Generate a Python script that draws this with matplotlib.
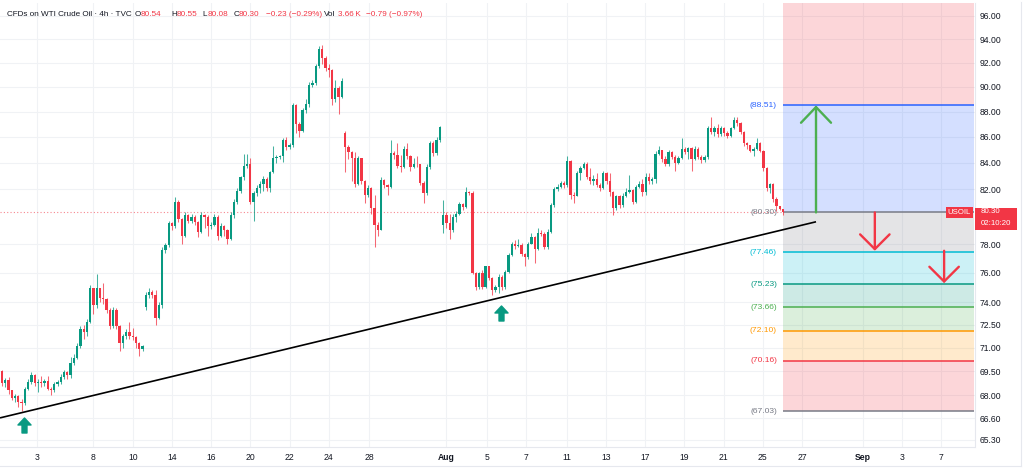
import matplotlib
matplotlib.use("Agg")
import matplotlib.pyplot as plt
from matplotlib.path import Path
from matplotlib.patches import Rectangle
from matplotlib.ticker import FixedLocator, FuncFormatter, NullLocator, NullFormatter

plt.rcParams['font.family'] = ['Liberation Sans', 'DejaVu Sans']

# ---------------- data (4h candles, USOIL) ----------------
first_open = 69.5
gap_opens = {44: 73.7, 105: 86.3, 135: 79.4}

closes = [
    68.75, 68.95, 68.3, 67.85, 67.95, 67.6, 67.5,
    68.4, 68.8, 69.25, 68.75, 68.8, 68.75, 68.9, 68.4, 68.3, 68.7,
    68.8, 69.15, 69.45, 69.25, 70.0, 70.35, 71.1, 72.2, 72.0, 72.7,
    74.95, 73.8, 74.95, 74.3, 74.2, 73.5, 72.45, 73.5, 72.4, 71.3,
    71.8, 72.0, 71.8, 71.7, 71.3, 70.9, 71.1,
    74.5, 74.7, 74.5, 72.95, 73.8, 77.6, 77.95, 79.5, 79.3, 81.1,
    79.85, 78.6, 80.1, 79.7,
    80.0, 79.6, 78.9, 80.1, 80.0, 79.3, 79.4, 80.0, 78.6, 79.3,
    79.0, 78.4, 80.1, 81.1, 81.9, 82.9,
    83.8, 83.95, 81.1, 81.75, 82.1, 82.4, 82.8, 82.1, 83.3, 84.35,
    84.45, 84.5, 85.75, 85.2, 85.35, 88.5, 87.0, 86.5, 88.1, 88.6,
    90.2, 90.35, 91.7, 93.2,
    92.4, 91.6, 91.4, 89.0, 89.95, 89.2, 90.5,
    85.25, 84.8, 84.35, 82.4, 84.35, 82.6, 81.6, 82.1, 80.6, 79.4, 79.0,
    82.7, 82.3, 82.2, 84.75, 84.6, 83.8, 83.7, 85.1, 84.5, 83.7,
    83.95, 83.9, 82.5, 81.7, 83.7, 85.5, 84.75, 85.75, 86.8,
    80.1, 79.5, 79.0, 80.0, 80.2, 80.95, 80.7, 81.8, 81.75,
    76.0, 75.05, 76.0, 75.05, 76.45, 75.65, 74.8, 75.05, 75.75, 75.05,
    76.1, 77.25, 78.05, 77.9, 77.95, 77.35, 77.1, 78.05, 78.5, 77.65,
    78.8, 78.75, 77.85, 78.9,
    80.85, 82.0, 82.2, 82.45, 82.3, 84.15, 81.6, 81.5,
    83.2, 83.6, 83.9, 82.95, 82.6, 82.75, 82.3, 82.1, 83.2, 82.6,
    81.8, 80.6, 81.5, 80.85, 81.5, 81.8, 81.95, 81.1, 82.2, 82.4,
    81.8, 82.95, 82.6, 82.8,
    84.7, 85.0, 84.3, 83.95, 84.85, 84.45, 84.0, 84.4, 85.1, 84.85,
    85.15, 84.3, 85.1, 84.45, 84.2, 84.45,
    86.7, 86.4, 86.7, 86.2, 86.7, 86.3, 86.1, 86.7, 87.3, 87.1,
    86.4, 85.5, 85.35, 84.95, 85.1, 85.5, 84.95, 83.6, 82.1, 82.4,
    81.3, 80.75, 80.54, 80.30,
]

highs = [
    69.6, 69.1, 69.15, 68.35, 68.1, 68.0, 67.8,
    68.5, 69.0, 69.45, 69.3, 69.0, 69.2, 69.0, 69.2, 68.5, 68.8,
    68.95, 69.3, 69.6, 69.5, 70.4, 70.6, 71.3, 72.4, 72.5, 72.9,
    75.2, 75.0, 75.9, 75.0, 75.3, 74.3, 73.6, 73.7, 73.6, 72.5,
    71.9, 72.2, 72.7, 72.3, 71.8, 71.4, 71.2,
    74.7, 75.0, 74.8, 74.8, 74.0, 77.8, 78.1, 79.7, 79.6, 81.4,
    81.2, 79.9, 80.3, 80.2,
    80.2, 80.1, 79.7, 80.3, 80.2, 80.1, 79.6, 80.2, 80.1, 79.5,
    79.4, 79.1, 80.3, 81.3, 82.1, 83.0,
    84.7, 84.7, 84.4, 81.9, 82.3, 82.6, 83.0, 82.9, 83.4, 85.3,
    84.6, 84.6, 85.9, 86.0, 85.5, 88.7, 88.6, 87.2, 88.3, 89.0,
    90.4, 90.6, 91.9, 93.4,
    93.5, 92.6, 91.9, 91.5, 90.6, 90.1, 90.7,
    86.5, 85.4, 84.9, 84.8, 84.5, 84.4, 82.7, 82.3, 82.2, 81.6, 79.6,
    82.9, 82.8, 82.4, 85.75, 84.9, 85.5, 84.6, 85.3, 85.5, 84.6,
    84.4, 84.5, 83.95, 82.6, 83.9, 85.7, 85.7, 86.0, 86.9,
    81.2, 80.3, 80.2, 80.2, 80.4, 81.1, 81.0, 82.2, 81.9,
    81.9, 76.1, 76.1, 76.2, 76.5, 76.5, 75.7, 75.2, 75.9, 75.85,
    76.2, 77.4, 78.2, 78.3, 78.4, 78.1, 77.4, 78.2, 78.8, 78.6,
    79.2, 79.0, 78.9, 79.1,
    81.0, 82.2, 82.4, 82.6, 82.6, 84.5, 84.2, 81.8,
    83.4, 83.8, 84.1, 84.1, 83.6, 83.1, 83.2, 82.5, 83.4, 83.3,
    83.2, 81.9, 81.6, 81.6, 81.7, 82.1, 83.1, 82.0, 82.3, 82.6,
    82.8, 83.2, 83.2, 82.9,
    84.9, 85.3, 85.0, 84.5, 85.0, 84.9, 84.6, 84.5, 85.9, 85.2,
    85.2, 85.2, 85.3, 85.2, 84.6, 84.6,
    86.9, 87.6, 86.9, 87.0, 86.9, 86.8, 86.5, 86.8, 87.6, 87.6,
    87.2, 86.5, 85.6, 85.4, 85.2, 85.9, 85.6, 85.0, 83.7, 82.5,
    82.5, 81.4, 80.8, 80.55,
]

lows = [
    68.6, 68.5, 68.1, 67.7, 67.6, 67.3, 67.05,
    67.4, 68.3, 68.7, 68.6, 68.2, 68.5, 68.6, 68.3, 68.0, 68.2,
    68.6, 68.7, 69.0, 69.0, 69.1, 69.9, 70.3, 71.0, 71.6, 71.8,
    72.6, 73.2, 73.6, 74.0, 73.9, 73.3, 72.2, 72.3, 72.2, 70.8,
    71.0, 71.6, 71.6, 71.5, 71.0, 70.5, 70.8,
    73.5, 74.3, 74.3, 72.5, 72.9, 73.6, 77.4, 77.8, 79.0, 79.2,
    79.6, 78.0, 78.5, 79.5,
    79.5, 79.4, 78.5, 78.8, 79.2, 78.6, 79.1, 79.3, 78.3, 78.5,
    78.6, 78.0, 78.3, 79.9, 80.9, 81.7,
    82.7, 83.6, 80.9, 79.7, 81.5, 81.7, 81.9, 81.9, 81.8, 83.2,
    84.0, 84.3, 84.1, 85.0, 85.1, 85.2, 86.3, 86.0, 86.4, 87.9,
    88.4, 90.0, 90.2, 91.6,
    91.9, 91.3, 90.8, 88.5, 88.8, 87.8, 89.1,
    83.3, 84.3, 82.6, 82.2, 82.3, 82.4, 81.0, 81.4, 80.2, 77.8, 78.6,
    79.0, 82.1, 81.6, 82.1, 84.3, 83.6, 83.3, 83.6, 84.3, 83.4,
    83.6, 83.7, 82.3, 81.0, 81.6, 83.5, 84.5, 84.6, 85.6,
    78.8, 79.2, 78.4, 78.9, 79.6, 80.1, 80.5, 80.6, 81.6,
    75.9, 74.8, 74.9, 74.9, 75.0, 75.5, 74.5, 74.7, 74.6, 74.8,
    74.9, 76.0, 77.2, 77.7, 77.8, 77.2, 76.5, 77.0, 78.0, 76.7,
    77.6, 78.6, 77.7, 77.7,
    78.8, 80.7, 81.9, 82.1, 82.1, 82.2, 81.3, 81.0,
    81.5, 82.7, 83.5, 82.8, 82.4, 82.3, 82.2, 81.9, 82.0, 82.4,
    81.5, 80.1, 80.5, 80.6, 80.7, 81.4, 81.7, 80.9, 81.0, 82.1,
    81.5, 81.6, 82.4, 82.4,
    82.5, 84.6, 84.1, 83.8, 83.8, 84.3, 83.4, 83.9, 84.3, 84.7,
    84.3, 83.4, 84.2, 84.3, 84.0, 84.1,
    84.3, 86.2, 86.1, 86.0, 86.1, 86.1, 85.9, 86.0, 86.6, 86.9,
    86.2, 85.3, 85.1, 84.8, 84.5, 85.0, 84.8, 83.4, 81.9, 81.7,
    81.1, 80.4, 80.45, 80.08,
]

date_tick_pos = [10.8, 28.0, 40.0, 52.0, 64.0, 76.0, 88.0, 100.0, 112.4, 136.0,
                 148.4, 160.4, 172.8, 184.8, 196.8, 208.8, 220.8, 232.8, 244.8,
                 263.4, 275.4, 287.4]
date_tick_labels = ['3', '8', '10', '14', '16', '20', '22', '24', '28', 'Aug',
                    '5', '7', '11', '13', '17', '19', '21', '25', '27',
                    'Sep', '3', '7']
# 80.00 is hidden behind the last-price tag in the reference
price_ticks = [96, 94, 92, 90, 88, 86, 84, 82, 78, 76, 74, 72.5, 71, 69.5,
               68, 66.6, 65.3]

fib_levels = [88.51, 80.30, 77.46, 75.23, 73.66, 72.10, 70.16, 67.03]
fib_colors = ['#2962ff', '#787b86', '#00bcd4', '#089981', '#4caf50', '#ff9800',
              '#f23645', '#787b86']
fib_top_color = '#f23645'

trend_x = [-0.61, 249.1]
trend_y = [66.62, 79.62]

up_marks_x = [6.7, 152.7]
up_marks_y = [66.2, 73.3]

green_arrow = {'x': 249.1, 'from': 80.30, 'to': 88.51}
red_arrows = [{'x': 267.1, 'from': 80.30, 'to': 77.55},
              {'x': 288.3, 'from': 77.55, 'to': 75.30}]

header_parts = [
    ('CFDs on WTI Crude Oil \u00b7 4h \u00b7 TVC', 7, 'dark'),
    ('O', 135, 'dark'), ('80.54', 140.5, 'red'),
    ('H', 171, 'dark'), ('80.55', 176.5, 'red'),
    ('L', 202.5, 'dark'), ('80.08', 207.5, 'red'),
    ('C', 233.5, 'dark'), ('80.30', 238.8, 'red'),
    ('\u22120.23 (\u22120.29%)', 265.5, 'red'),
    ('Vol', 324, 'dark'), ('3.66\u2009K', 337.5, 'red'),
    ('\u22120.79 (\u22120.97%)', 366, 'red'),
]
symbol = 'USOIL'
countdown = '02:10:20'

# ---------------- figure ----------------
W, H = 1024, 474
UP = '#089981'
DOWN = '#f23645'
DARK = '#131722'

fig = plt.figure(figsize=(W / 100, H / 100), dpi=100)
fig.patch.set_facecolor('white')
ax = fig.add_axes([0, 27 / H, 974.5 / W, 444 / H])
ax.set_yscale('log')
XMIN, XMAX = -0.61, 297.6
YMIN, YMAX = 64.88, 97.14

n = len(closes)
xs = list(range(n))
opens = []
prev = first_open
for i, c in enumerate(closes):
    opens.append(gap_opens.get(i, prev))
    prev = c

cols = [UP if c >= o else DOWN for o, c in zip(opens, closes)]
ax.vlines(xs, lows, highs, colors=cols, lw=0.75, alpha=0.75, zorder=3)
bottoms = [min(o, c) for o, c in zip(opens, closes)]
heights = [max(abs(c - o), 0.04) for o, c in zip(opens, closes)]
ax.bar(xs, heights, bottom=bottoms, width=0.7, color=cols, lw=0, zorder=3.1)

last_close = closes[-1]
fib_x0 = n - 1

# current price dotted line
ax.hlines(last_close, XMIN, fib_x0, colors=DOWN, lw=0.8, linestyles=(0, (1, 2)),
          alpha=0.6, zorder=2)

# fibonacci zones
ax.fill_between([fib_x0, XMAX], fib_levels[0], YMAX, color=fib_top_color,
                alpha=0.2, lw=0, zorder=1)
for k in range(len(fib_levels) - 1):
    ax.fill_between([fib_x0, XMAX], fib_levels[k + 1], fib_levels[k],
                    color=fib_colors[k], alpha=0.2, lw=0, zorder=1)
for lvl, col in zip(fib_levels, fib_colors):
    ax.hlines(lvl, fib_x0, XMAX, colors=col, lw=1.1, zorder=2)
    ax.annotate(f'({lvl:.2f})', xy=(fib_x0, lvl), xytext=(-4.3, 0),
                textcoords='offset points', ha='right', va='center',
                fontsize=6.1, color=col, zorder=6)

# trend line
ax.plot(trend_x, trend_y, color='#000000', lw=1.2, zorder=4,
        solid_capstyle='butt')

# arrows
ax.annotate('', xy=(green_arrow['x'], green_arrow['to']),
            xytext=(green_arrow['x'], green_arrow['from']),
            arrowprops=dict(arrowstyle='->,head_length=1.13,head_width=1.08',
                            mutation_scale=10, color='#4caf50', lw=1.7,
                            shrinkA=0, shrinkB=0), zorder=5)
for ra in red_arrows:
    ax.annotate('', xy=(ra['x'], ra['to']), xytext=(ra['x'], ra['from']),
                arrowprops=dict(arrowstyle='->,head_length=1.06,head_width=1.06',
                                mutation_scale=10, color=DOWN, lw=1.7,
                                shrinkA=0, shrinkB=0), zorder=5)

arrow_path = Path([(0, 1), (0.87, 0.07), (0.33, 0.07), (0.33, -1), (-0.33, -1),
                   (-0.33, 0.07), (-0.87, 0.07), (0, 1)],
                  [Path.MOVETO] + [Path.LINETO] * 6 + [Path.CLOSEPOLY])
ax.plot(up_marks_x, up_marks_y, ls='none', marker=arrow_path, ms=10.8,
        color=UP, mec=UP, zorder=5)

# axes styling
ax.set_xlim(XMIN, XMAX)
ax.set_ylim(YMIN, YMAX)
ax.yaxis.tick_right()
ax.yaxis.set_major_locator(FixedLocator(price_ticks))
ax.yaxis.set_minor_locator(NullLocator())
ax.yaxis.set_minor_formatter(NullFormatter())
ax.yaxis.set_major_formatter(FuncFormatter(lambda v, p: f'{v:.2f}'))
ax.set_xticks(date_tick_pos)
ax.set_xticklabels(date_tick_labels)
for t in ax.get_xticklabels():
    if t.get_text() in ('Aug', 'Sep'):
        t.set_fontweight('bold')
ax.tick_params(axis='both', length=0, labelsize=6.2, labelcolor=DARK)
ax.tick_params(axis='y', pad=4)
ax.tick_params(axis='x', pad=4)
ax.grid(True, color='#f0f2f5', lw=0.8)
ax.set_axisbelow(True)
for s in ('left', 'top'):
    ax.spines[s].set_visible(False)
for s in ('right', 'bottom'):
    ax.spines[s].set_color('#e6e8ee')
    ax.spines[s].set_linewidth(0.8)

# outer frame lines
fig.add_artist(plt.Line2D([1020.5 / W, 1020.5 / W], [1 - 466 / H, 1 - 2 / H],
                          color='#e6e8ee', lw=0.8))
fig.add_artist(plt.Line2D([0, 1020.5 / W], [1 - 466 / H, 1 - 466 / H],
                          color='#e6e8ee', lw=0.8))

# header
for txt, x, kind in header_parts:
    fig.text(x / W, 1 - 15 / H, txt, ha='left', va='center', fontsize=5.9,
             color=DARK if kind == 'dark' else DOWN)

# price tag boxes
y80 = H - ax.transData.transform((0, last_close))[1]
fig.add_artist(Rectangle((975 / W, 1 - (y80 + 17.2) / H), 42 / W, 22 / H,
                         transform=fig.transFigure, color=DOWN, lw=0, zorder=10))
fig.text(980.5 / W, 1 - (y80 - 0.6) / H, f'{last_close:.2f}', ha='left',
         va='center', fontsize=5.7, color='white', zorder=11)
fig.text(980.5 / W, 1 - (y80 + 10.6) / H, countdown, ha='left', va='center',
         fontsize=5.7, color='white', zorder=11)
fig.add_artist(Rectangle((946 / W, 1 - (y80 + 5.3) / H), 27 / W, 10.4 / H,
                         transform=fig.transFigure, color=DOWN, lw=0, zorder=10))
fig.text(959.5 / W, 1 - y80 / H, symbol, ha='center', va='center',
         fontsize=5.6, color='white', zorder=11)

fig.savefig('out.png', dpi=100, facecolor='white')
